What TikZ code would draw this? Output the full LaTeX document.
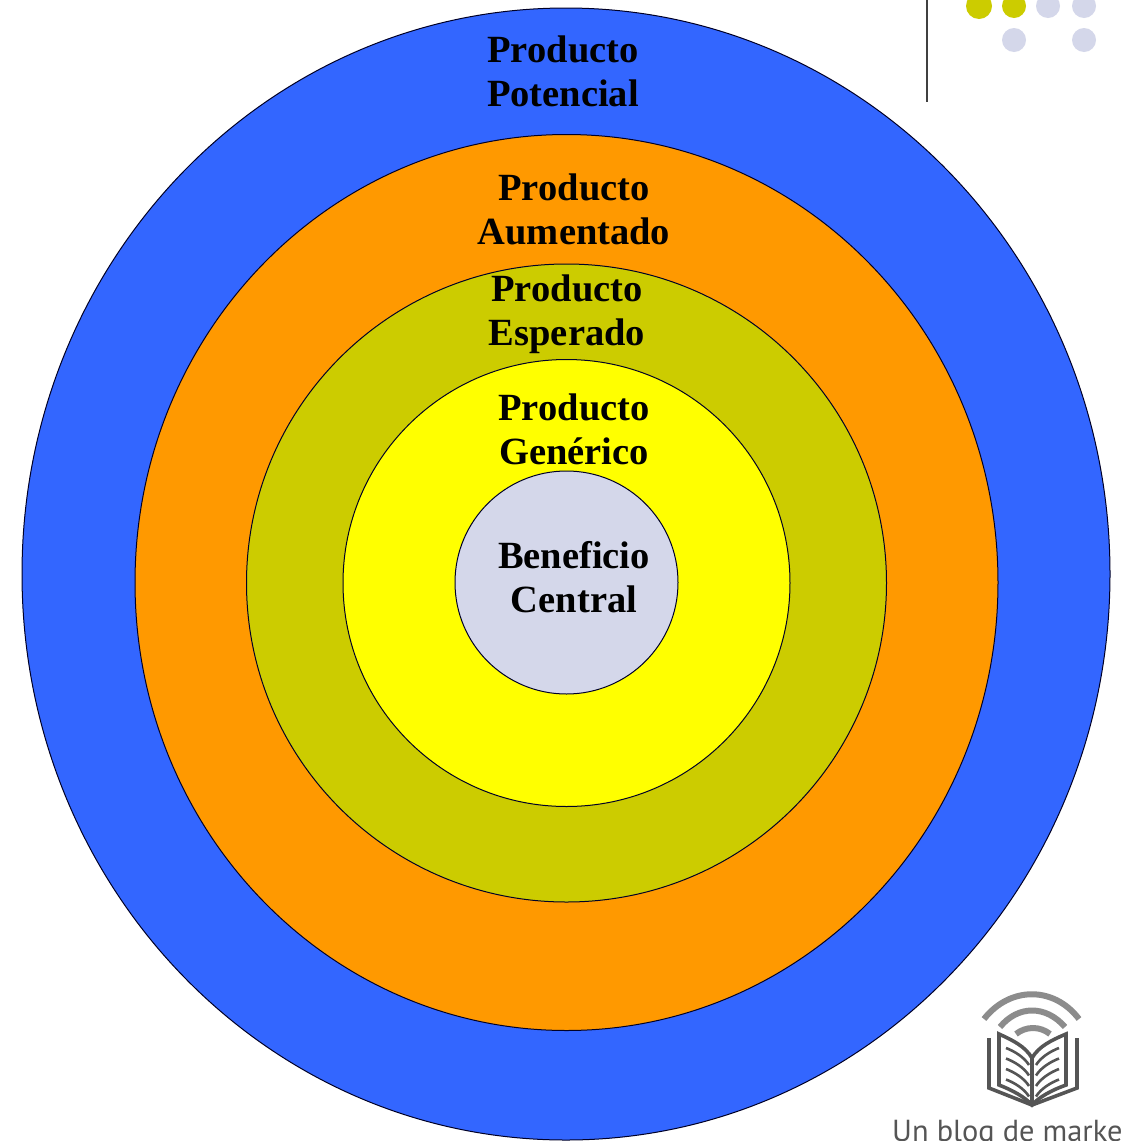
\documentclass[tikz,border=0pt]{standalone}
\usepackage{fontspec}
\setmainfont{Liberation Serif}
\newfontfamily\logofont{PT Sans}
\definecolor{cblue}{HTML}{3366FF}
\definecolor{corange}{HTML}{FF9900}
\definecolor{colive}{HTML}{CCCC00}
\definecolor{cyellow}{HTML}{FFFF00}
\definecolor{cgrey}{HTML}{D4D7EA}
\definecolor{clogo}{HTML}{555555}
\definecolor{clogob}{HTML}{8C8C8C}
\tikzset{
  ring/.style={draw=black!85!blue,line width=1pt},
  lab/.style={font=\fontsize{38.5}{44}\selectfont\bfseries,text=black,align=center,inner sep=0pt,anchor=center},
  dot/.style={circle,inner sep=0pt,minimum size=24pt,fill=#1},
  wave/.style={draw=clogob,line width=6pt},
  bookl/.style={draw=clogo,line width=3.6pt,line join=miter},
  leaf/.style={draw=clogo,line width=2.6pt}
}
\begin{document}
\begin{tikzpicture}[x=1pt,y=-1pt]
\useasboundingbox (0,0) rectangle (1125,1141);
\clip (0,0) rectangle (1125,1141);
\fill[white] (0,0) rectangle (1125,1141);
\draw[ring,fill=cblue] (566,574) ellipse [x radius=544,y radius=566];
\draw[ring,fill=corange] (566.5,582.5) ellipse [x radius=431.5,y radius=448];
\draw[ring,fill=colive] (566.5,583) ellipse [x radius=320,y radius=319];
\draw[ring,fill=cyellow] (566.5,583) circle [radius=223.5];
\draw[ring,fill=cgrey] (566.5,582.5) circle [radius=111.5];
\node[lab] (p1) at (563,71) {Producto\\Potencial};
\node[lab] (p2) at (574,209) {Producto\\Aumentado};
\node[lab] (p3) at (567,314.5) {Producto\\Esperado};
\node[lab] (p4) at (574,429.5) {Producto\\Genérico};
\node[lab] (p5) at (574,577.5) {Beneficio\\Central};
% corner decoration
\draw[draw=black!75,line width=2pt] (927,0) -- (927,102);
\node[dot=colive,minimum size=26pt] (d1) at (979,6) {};
\node[dot=colive] (d2) at (1014,6) {};
\node[dot=cgrey] (d3) at (1048,6) {};
\node[dot=cgrey] (d4) at (1084,6) {};
\node[dot=cgrey] (d5) at (1014,40) {};
\node[dot=cgrey] (d6) at (1084,40) {};
% logo
\draw[wave] (984,1019) .. controls (1010,986) and (1054,986) .. (1079,1019);
\draw[wave] (1000,1027) .. controls (1018,1005) and (1046,1005) .. (1065,1027);
\draw[wave] (1016,1034) .. controls (1026,1026) and (1040,1026) .. (1050,1034);
\draw[bookl] (1032,1105) -- (1032,1058) .. controls (1025,1046) and (1012,1040) .. (999,1034) -- (999,1085) .. controls (1012,1090) and (1025,1097) .. (1032,1105)
  .. controls (1039,1097) and (1052,1090) .. (1066,1085) -- (1066,1034) .. controls (1052,1040) and (1039,1046) .. (1032,1058);
\draw[bookl] (989,1038) -- (989,1088) -- (1032,1105) -- (1077,1088) -- (1077,1038);
\foreach \i in {0,1,2,3}{
  \draw[leaf] (1006,1048+\i*10.5) .. controls (1014,1051+\i*10.5) and (1024,1057+\i*10.5) .. (1029,1065+\i*10.5);
  \draw[leaf] (1059,1048+\i*10.5) .. controls (1051,1051+\i*10.5) and (1041,1057+\i*10.5) .. (1036,1065+\i*10.5);
}
\node[font=\logofont\fontsize{30.4}{36}\selectfont,text=clogo,anchor=base west,inner sep=0pt] (logo) at (892,1141) {Un blog de marke};
\end{tikzpicture}
\end{document}
